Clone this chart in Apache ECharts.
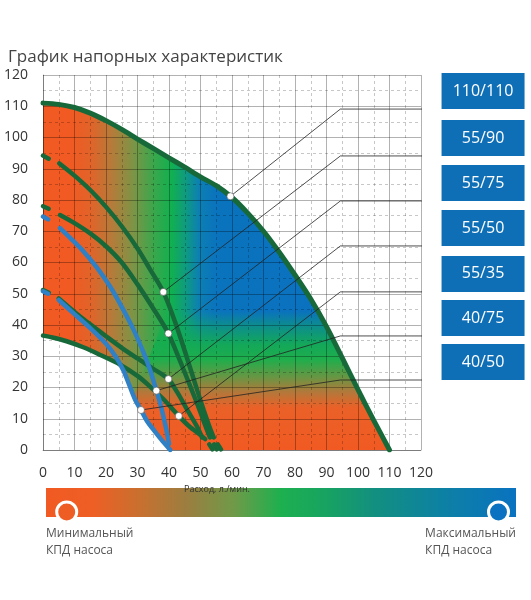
<!DOCTYPE html>
<html>
<head>
<meta charset="utf-8">
<script src="https://cdn.jsdelivr.net/npm/echarts@6/dist/echarts.min.js"></script>
<style>
html, body { margin: 0; padding: 0; background: #fff; }
#chart { width: 531px; height: 600px; }
</style>
</head>
<body>
<div id="chart"></div>
<script>
// оси
var xTicks = [0, 10, 20, 30, 40, 50, 60, 70, 80, 90, 100, 110, 120];
var yTicks = [0, 10, 20, 30, 40, 50, 60, 70, 80, 90, 100, 110, 120];

// напорные характеристики [расход, напор]
var q110_110 = [[0, 111], [5, 110.6], [10, 109.6], [15, 107.8], [20, 105.4], [25, 102.6], [30, 99.5], [35, 96.5], [40, 93.5], [45, 90.5], [50, 87.4], [55, 84.6], [60, 80.8], [65, 75.8], [70, 70], [75, 63.3], [80, 56], [85, 48.3], [90, 39.5], [95, 29.5], [100, 19.3], [105, 9.5], [110, 0]];
var q55_90 = [[0, 94.2], [1.8, 93.2], null, [5.2, 91.7], [10, 87.8], [15, 83.2], [20, 77.8], [25, 71.6], [30, 64.5], [34, 57.8], [38.2, 50.6], [42, 40.8], [45.7, 29.5], [49, 19], [51, 12.8], [53, 7], [54.2, 4], null, [55.5, 1.8], [56.5, 0.2]];
var q55_75 = [[0, 78], [1.8, 77.2], null, [5.4, 75.2], [10, 72.6], [15, 69.3], [20, 65.2], [25, 60], [30, 53], [35, 45.3], [39.8, 37.3], [43.5, 28.5], [46.8, 20.3], [50, 12], [52.2, 6], [53, 4], null, [54.3, 1.8], [55.2, 0.2]];
var q55_50 = [[0, 51.2], [1.8, 50.3], null, [5, 48.5], [10, 44.2], [15, 40.2], [20, 36.4], [25, 32.7], [30, 29.3], [35, 26], [39.8, 22.7], [42.6, 18.5], [46, 12.5], [48.9, 7.5], [50.5, 4], null, [52.8, 1.8], [53.8, 0.2]];
var q55_35 = [[0, 36.6], [3, 36], [7.5, 34.8], [13, 32.8], [18, 30.5], [24.5, 27.3], [30, 23.7], [34, 20.3], [38.5, 16], [43, 11], [46.5, 7.5], [50, 4.8], [51.5, 3.5]];
var q40_75 = [[0, 74.7], [1.6, 73.8], null, [5.4, 71], [9, 67.5], [12.8, 63.6], [17, 58.5], [21.3, 52.3], [25, 45.8], [28.7, 38.6], [32, 31], [34, 25.6], [36, 19], [37.2, 15], [38.5, 9.5], [39.4, 5.3], [40, 2]];
var q40_50 = [[0, 50.8], [1.6, 50], null, [5, 48], [10, 43.5], [15, 39], [20, 34], [23, 30], [25.5, 25.5], [27.5, 20.5], [29.3, 16], [31.1, 12.8], [33, 9.3], [35, 6.6], [37.5, 3.4], [40.4, 0]];

// нижняя граница рабочей зоны (снизу слева белое)
var lowerEdge = [[0, 36.6], [3, 36], [7.5, 34.8], [13, 32.8], [18, 30.5], [23, 28], [25.5, 25.5], [27.5, 20.5], [29.3, 16], [31.1, 12.8], [33, 9.3], [35, 6.6], [37.5, 3.4], [40.4, 0]];
// левая граница нижней (оранжево-зелёной) заливки
var bandLeft = [[24, 0], [28, 15], [33, 28], [40, 46]];

// выноски
var labels = ['110/110', '55/90', '55/75', '55/50', '55/35', '40/75', '40/50'];
var dots = [[59.5, 81.2], [38.2, 50.6], [39.8, 37.3], [39.8, 22.7], [43.1, 10.9], [36, 19], [31.1, 12.8]];
var rowY = [109.1, 94.1, 79.7, 65.3, 50.6, 36.5, 22.4];
var elbowX = 94.4;
var lineEndX = 126.5;
var boxX = 139.7;

var green = '#17693a';
var blue = '#2f80c4';

var curves = [
    { name: '110/110', data: q110_110, color: green, width: 5 },
    { name: '55/90', data: q55_90, color: green, width: 4.5 },
    { name: '55/75', data: q55_75, color: green, width: 4.5 },
    { name: '55/50', data: q55_50, color: green, width: 4.5 },
    { name: '55/35', data: q55_35, color: green, width: 4.5 },
    { name: '40/75', data: q40_75, color: blue, width: 4.5 },
    { name: '40/50', data: q40_50, color: blue, width: 4.5 }
];

var LG = echarts.graphic.LinearGradient;
var font = 'Open Sans';

var series = [];

// основная заливка под большой кривой
series.push({
    type: 'line', data: q110_110, smooth: 0.3, symbol: 'none', silent: true, z: 1,
    lineStyle: { width: 0 },
    areaStyle: {
        opacity: 1,
        color: new LG(0, 0, 1, 0, [
            { offset: 0, color: '#f15a22' },
            { offset: 0.08, color: '#f15a22' },
            { offset: 0.14, color: '#e0642a' },
            { offset: 0.2, color: '#b47c3a' },
            { offset: 0.26, color: '#7d9446' },
            { offset: 0.32, color: '#3aa74c' },
            { offset: 0.37, color: '#11b04f' },
            { offset: 0.41, color: '#0f9c7e' },
            { offset: 0.45, color: '#0c80b2' },
            { offset: 0.5, color: '#0a73bd' },
            { offset: 1, color: '#0a70c0' }
        ])
    }
});

// нижняя полоса: оранжевый -> зелёный
series.push({
    type: 'line', data: bandLeft.concat(q110_110.filter(function (p) { return p[1] < 50; })),
    symbol: 'none', silent: true, z: 1,
    lineStyle: { width: 0 },
    areaStyle: {
        opacity: 1,
        color: new LG(0, 0, 0, 1, [
            { offset: 0, color: 'rgba(17,176,79,0)' },
            { offset: 0.08, color: 'rgba(17,176,79,0)' },
            { offset: 0.18, color: 'rgba(17,176,79,0.45)' },
            { offset: 0.3, color: 'rgba(20,173,79,0.9)' },
            { offset: 0.4, color: '#1fae4c' },
            { offset: 0.52, color: '#6a9543' },
            { offset: 0.62, color: '#b5773a' },
            { offset: 0.72, color: '#ea6128' },
            { offset: 1, color: '#f15a22' }
        ])
    }
});

// белая зона слева снизу
series.push({
    type: 'line', data: lowerEdge, smooth: 0.3, symbol: 'none', silent: true, z: 1,
    lineStyle: { width: 0 },
    areaStyle: { color: '#fff', opacity: 1 }
});

// кривые
curves.forEach(function (c) {
    series.push({
        type: 'line', name: c.name, data: c.data, smooth: 0.3, symbol: 'none', silent: true, z: 3,
        connectNulls: false,
        lineStyle: { color: c.color, width: c.width, cap: 'round' }
    });
});

// линии выносок
labels.forEach(function (l, i) {
    series.push({
        type: 'line', data: [dots[i], [elbowX, rowY[i]], [lineEndX, rowY[i]]],
        symbol: 'none', silent: true, clip: false, z: 4,
        lineStyle: { color: '#222', width: 0.8 }
    });
});

// точки
series.push({
    type: 'scatter', data: dots, symbolSize: 7, silent: true, z: 5,
    itemStyle: { color: '#fff', opacity: 1, borderColor: '#555', borderWidth: 0.6 }
});

// плашки
series.push({
    type: 'scatter', silent: true, clip: false, z: 5,
    data: labels.map(function (l, i) { return { name: l, value: [boxX, rowY[i]] }; }),
    symbol: 'rect', symbolSize: [83, 36], symbolOffset: [0, -18],
    itemStyle: { color: '#0f6fb6', opacity: 1 },
    label: {
        show: true, position: 'inside', formatter: '{b}',
        color: '#fff', fontSize: 16, fontFamily: font
    }
});

var gridLine = { color: 'rgba(0,0,0,0.3)', width: 1 };
var gridDash = { color: 'rgba(0,0,0,0.22)', width: 1, type: [3, 3] };

var option = {
    animation: false,
    title: {
        text: 'График напорных характеристик', left: 3, top: 44,
        textStyle: { fontSize: 17, fontWeight: 'normal', color: '#444', fontFamily: font }
    },
    grid: { left: 43, right: 110, top: 75, bottom: 150, containLabel: false, outerBoundsMode: 'none' },
    xAxis: {
        type: 'value', min: xTicks[0], max: xTicks[xTicks.length - 1], interval: xTicks[1] - xTicks[0], z: 2,
        name: 'Расход, л./мин.', nameLocation: 'middle', nameGap: 8,
        nameTextStyle: { fontSize: 9, color: '#333', fontFamily: font, padding: [0, 30, 0, 0] },
        axisLine: { lineStyle: gridLine },
        axisTick: { show: false },
        axisLabel: { color: '#333', fontSize: 14, margin: 16, fontFamily: font },
        splitLine: { lineStyle: gridLine },
        minorTick: { show: false, splitNumber: 2 },
        minorSplitLine: { show: true, lineStyle: gridDash }
    },
    yAxis: {
        type: 'value', min: yTicks[0], max: yTicks[yTicks.length - 1], interval: yTicks[1] - yTicks[0], z: 2,
        name: 'Напор, м.', nameLocation: 'middle', nameGap: 7, nameRotate: 90,
        nameTextStyle: { fontSize: 9, color: '#333', fontFamily: font },
        axisLine: { show: true, lineStyle: gridLine },
        axisTick: { show: false },
        axisLabel: { color: '#333', fontSize: 14, margin: 15, fontFamily: font },
        splitLine: { lineStyle: gridLine },
        minorTick: { show: false, splitNumber: 2 },
        minorSplitLine: { show: true, lineStyle: gridDash }
    },
    graphic: [
        {
            type: 'rect', left: 46, top: 488, shape: { width: 470, height: 29 },
            style: {
                fill: new LG(0, 0, 1, 0, [
                    { offset: 0, color: '#f15a22' },
                    { offset: 0.1, color: '#ee5f25' },
                    { offset: 0.2, color: '#c8702f' },
                    { offset: 0.3, color: '#9b7e40' },
                    { offset: 0.4, color: '#6f9a48' },
                    { offset: 0.5, color: '#1db04f' },
                    { offset: 0.6, color: '#17a262' },
                    { offset: 0.7, color: '#138f80' },
                    { offset: 0.85, color: '#0d80a5' },
                    { offset: 1, color: '#0a72c0' }
                ])
            }
        },
        { type: 'circle', shape: { cx: 66.7, cy: 512, r: 10 }, style: { fill: '#ee5d24', stroke: '#fff', lineWidth: 3 } },
        { type: 'circle', shape: { cx: 498.5, cy: 512, r: 10 }, style: { fill: '#0a72c0', stroke: '#fff', lineWidth: 3 } },
        { type: 'text', left: 46, top: 525, style: { text: 'Минимальный\nКПД насоса', fill: '#555', fontSize: 12, lineHeight: 17, fontFamily: font } },
        { type: 'text', right: 15, top: 525, style: { text: 'Максимальный\nКПД насоса', fill: '#555', fontSize: 12, lineHeight: 17, align: 'right', fontFamily: font } }
    ],
    series: series
};

var myChart = echarts.init(document.getElementById('chart'));
myChart.setOption(option);
</script>
</body>
</html>
